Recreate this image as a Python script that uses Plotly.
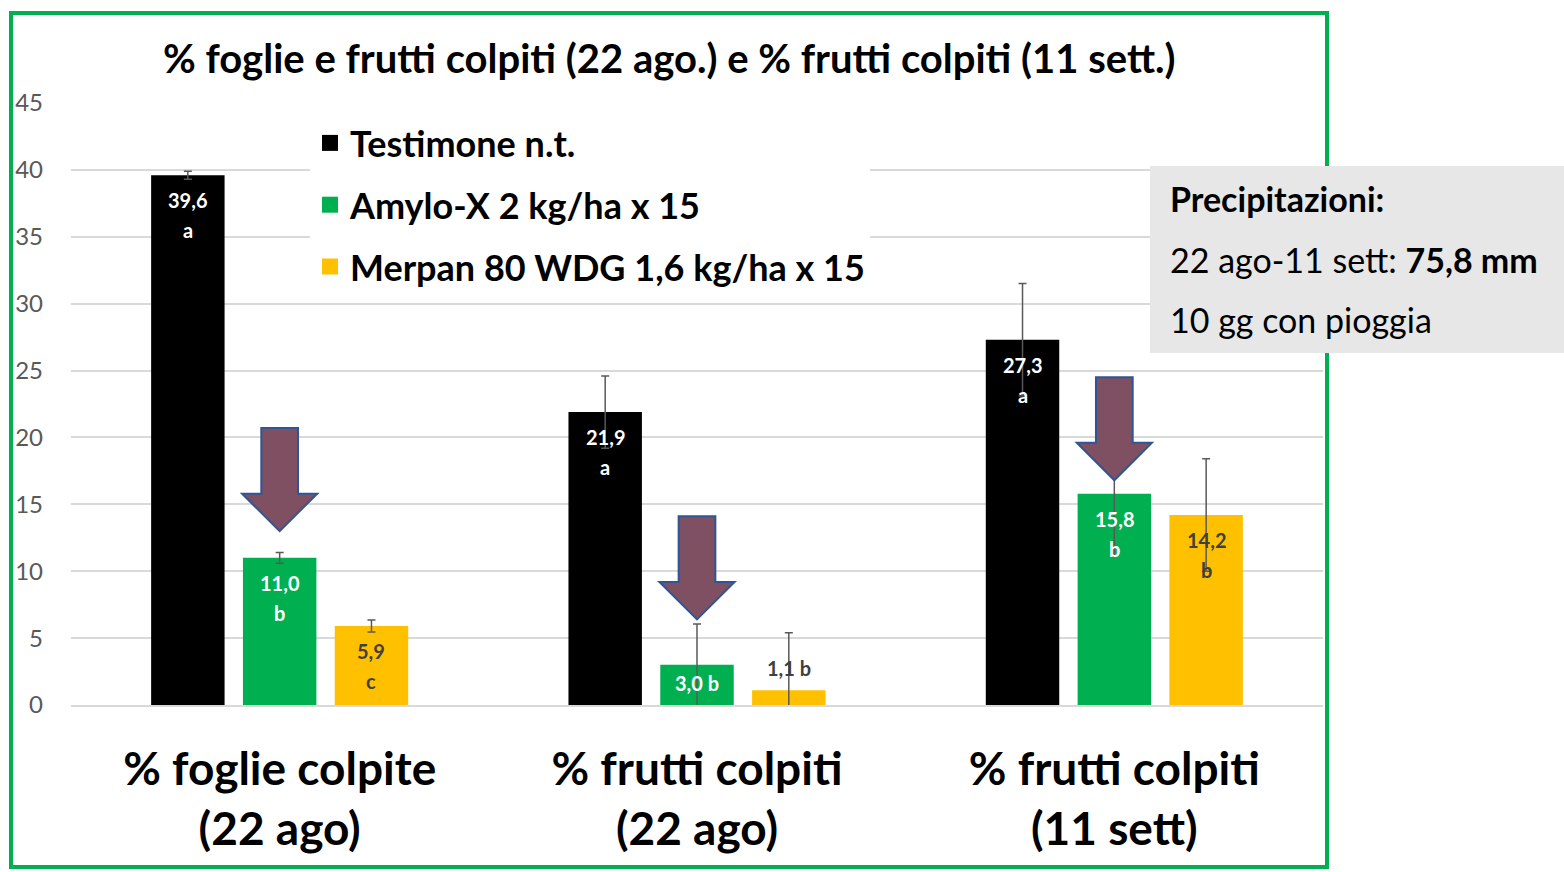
import plotly.graph_objects as go

# data
groups = ["% foglie colpite<br>(22 ago)", "% frutti colpiti<br>(22 ago)", "% frutti colpiti<br>(11 sett)"]
series_names = ["Testimone n.t.", "Amylo-X 2 kg/ha x 15", "Merpan 80 WDG 1,6 kg/ha x 15"]
testimone = [39.6, 21.9, 27.3]
amylo = [11.0, 3.0, 15.8]
merpan = [5.9, 1.1, 14.2]
err_testimone = [0.3, 2.7, 4.2]
err_amylo = [0.4, 3.05, 4.6]
err_merpan = [0.45, 4.3, 4.2]
letters_testimone = ["a", "a", "a"]
letters_amylo = ["b", "b", "b"]
letters_merpan = ["c", "b", "b"]
yticks = [0, 5, 10, 15, 20, 25, 30, 35, 40, 45]

colors = ["#000000", "#00B050", "#FFC000"]
label_colors = ["#FFFFFF", "#FFFFFF", "#404040"]
FONT = "Lato"

W, H = 1564, 872
ML, MR, MT, MB = 71, 241, 103, 167
PW, PH = W - ML - MR, H - MT - MB


def px(x):
    return (x - ML) / PW


def py(y):
    return (H - MB - y) / PH


fig = go.Figure()
values = [testimone, amylo, merpan]
errors = [err_testimone, err_amylo, err_merpan]
letters = [letters_testimone, letters_amylo, letters_merpan]
xs = list(range(len(groups)))

for name, vals, errs, col in zip(series_names, values, errors, colors):
    fig.add_trace(go.Bar(
        x=xs, y=vals, name=name, showlegend=False,
        marker=dict(color=col, line=dict(width=0)),
        error_y=dict(type="data", array=errs, color="#595959", thickness=1.5, width=4),
        hoverinfo="skip",
    ))

# legend entries (square markers are larger than the bar legend icons)
for name, col in zip(series_names, colors):
    fig.add_trace(go.Scatter(
        x=[None], y=[None], mode="markers", name=name, legendgroup=name,
        marker=dict(symbol="square", size=20, color=col),
    ))

# value + significance labels
offsets = [-0.22, 0.0, 0.22]
annotations = []
for k in range(3):
    for i, v in enumerate(values[k]):
        txt = f"{v:.1f}".replace(".", ",")
        xx = i + offsets[k]
        f = dict(family=FONT, size=20, color=label_colors[k])
        if k == 2 and v < 2:
            f = dict(family=FONT, size=20, color="#404040")
            annotations.append(dict(x=xx, y=v, text=f"<b>{txt} {letters[k][i]}</b>", showarrow=False,
                                    yanchor="bottom", yshift=8, font=f))
        elif v < 5:
            annotations.append(dict(x=xx, y=v / 2, text=f"<b>{txt} {letters[k][i]}</b>", showarrow=False,
                                    yanchor="middle", yshift=2, font=f))
        else:
            annotations.append(dict(x=xx, y=v, text=f"<b>{txt}</b>", showarrow=False,
                                    yanchor="middle", yshift=-25, font=f))
            annotations.append(dict(x=xx, y=v, text=f"<b>{letters[k][i]}</b>", showarrow=False,
                                    yanchor="middle", yshift=-55, font=f))

# title
annotations.append(dict(xref="paper", yref="paper", x=px(669), y=py(58), xanchor="center", yanchor="middle",
                        text="<b>% foglie e frutti colpiti (22 ago.) e % frutti colpiti (11 sett.)</b>",
                        showarrow=False, font=dict(family=FONT, size=40, color="#000000")))

# precipitation box text
box_lines = ["<b>Precipitazioni:</b>", "22 ago-11 sett: <b>75,8 mm</b>", "10 gg con pioggia"]
for line, yy in zip(box_lines, [198, 259, 319]):
    annotations.append(dict(xref="paper", yref="paper", x=px(1168), y=py(yy), xanchor="left", yanchor="middle",
                            text=line, showarrow=False, font=dict(family=FONT, size=34, color="#000000")))

shapes = [
    dict(type="rect", xref="paper", yref="paper", x0=px(11), x1=px(1327), y0=py(13), y1=py(867),
         line=dict(color="#00B050", width=4), fillcolor="rgba(0,0,0,0)", layer="above"),
    dict(type="rect", xref="paper", yref="paper", x0=px(1150), x1=px(1564), y0=py(166), y1=py(353),
         line=dict(width=0), fillcolor="#E7E7E7", layer="above"),
]

# downward arrows over the Amylo-X bars (tip in axis units)
arrow_tips = [13.0, 6.4, 16.8]
for i, tip in enumerate(arrow_tips):
    hw, sw, hl, tl = 0.09, 0.044, 2.8, 7.7
    path = (f"M {i - sw} {tip + tl} L {i + sw} {tip + tl} L {i + sw} {tip + hl} L {i + hw} {tip + hl} "
            f"L {i} {tip} L {i - hw} {tip + hl} L {i - sw} {tip + hl} Z")
    shapes.append(dict(type="path", xref="x", yref="y", path=path, fillcolor="#7E5062",
                       line=dict(color="#2F5597", width=2), layer="above"))

fig.update_layout(
    width=W, height=H,
    margin=dict(l=ML, r=MR, t=MT, b=MB),
    paper_bgcolor="white", plot_bgcolor="white",
    barmode="group", bargap=0.34, bargroupgap=0.2,
    showlegend=True,
    legend=dict(x=px(310), y=py(113), xanchor="left", yanchor="top", bgcolor="white",
                font=dict(family=FONT, size=36, color="#000000", weight="bold"),
                tracegroupgap=12, itemsizing="trace"),
    xaxis=dict(range=[-0.5, 2.5], tickvals=xs, ticktext=[f"<b>{g}</b>" for g in groups],
               tickfont=dict(family=FONT, size=46, color="#000000"), showgrid=False,
               showline=True, linecolor="#D9D9D9", linewidth=1.5, ticks="", ticklabelstandoff=23,
               fixedrange=True),
    yaxis=dict(range=[0, 45], tickvals=yticks, tickfont=dict(family=FONT, size=24, color="#595959"),
               showgrid=True, gridcolor="#D9D9D9", gridwidth=1.5, zeroline=False, ticks="",
               ticklabelstandoff=27, fixedrange=True),
    shapes=shapes,
    annotations=annotations,
    font=dict(family=FONT),
)

fig.write_html("out.html", config={"displayModeBar": False},
               post_script="document.body.style.margin='0';")
